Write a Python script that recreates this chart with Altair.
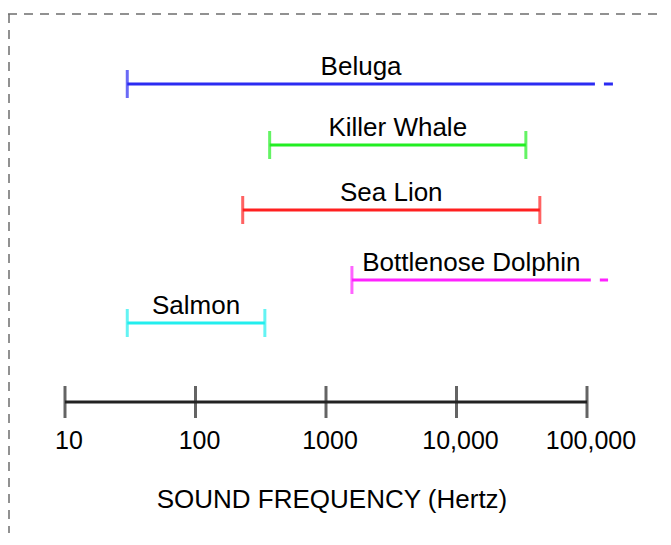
import altair as alt
import pandas as pd

# ---- data ----
species = ["Beluga", "Killer Whale", "Sea Lion", "Bottlenose Dolphin", "Salmon"]
low_hz = [30, 370, 230, 1580, 30]
high_hz = [115000, 34000, 43500, 107000, 340]
ext_hz = [158000, None, None, 145000, None]      # dashed continuation past the range
cap_high = [False, True, True, False, True]       # upper end bar drawn?
colors = ["#2b2bf2", "#22ee22", "#ff2020", "#ff22ff", "#22eeee"]

tick_values = [10, 100, 1000, 10000, 100000]
tick_labels = ["10", "100", "1000", "10,000", "100,000"]
axis_title = "SOUND FREQUENCY (Hertz)"

# ---- layout ----
W, H = 655, 525
lane_y = {"Beluga": 76, "Killer Whale": 137, "Sea Lion": 202,
          "Bottlenose Dolphin": 272, "Salmon": 315}
AXIS_Y, LABEL_Y, TITLE_Y = 394, 433, 492
FONT = "Liberation Sans"

df = pd.DataFrame({
    "species": species, "low": low_hz, "high": high_hz, "ext": ext_hz,
    "cap": cap_high, "lane": [lane_y[s] for s in species],
})
ticks = pd.DataFrame({"v": tick_values, "label": tick_labels})

xs = alt.Scale(type="log", domain=[10, 100000], range=[57, 579])
ys = alt.Scale(domain=[0, H], range=[0, H])
cs = alt.Scale(domain=species, range=colors)

X = lambda f: alt.X(f, type="quantitative", scale=xs, axis=None)
Y = lambda f: alt.Y(f, type="quantitative", scale=ys, axis=None)
C = alt.Color("species:N", scale=cs, legend=None)

base = alt.Chart(df)

border_top = alt.Chart(pd.DataFrame({"a": [0]})).mark_rule(
    color="#6e6e6e", strokeWidth=1.5, strokeDash=[9, 7]
).encode(x=alt.value(0), x2=alt.value(W), y=alt.value(6))
border_left = alt.Chart(pd.DataFrame({"a": [0]})).mark_rule(
    color="#6e6e6e", strokeWidth=1.5, strokeDash=[9, 7]
).encode(x=alt.value(1), y=alt.value(6), y2=alt.value(H))

ranges = base.mark_rule(strokeWidth=3).encode(
    x=X("low"), x2="high", y=Y("lane"), color=C)
low_caps = base.mark_tick(orient="vertical", size=28, thickness=3).encode(
    x=X("low"), y=Y("lane"), color=C)
high_caps = base.transform_filter("datum.cap").mark_tick(
    orient="vertical", size=28, thickness=3).encode(
    x=X("high"), y=Y("lane"), color=C)
ext = base.transform_filter("isValid(datum.ext)").mark_rule(
    strokeWidth=3, strokeDash=[9, 9], strokeDashOffset=9).encode(
    x=X("high"), x2="ext", y=Y("lane"), color=C)
names = base.transform_calculate(mid="sqrt(datum.low*datum.high)").mark_text(
    dy=-17, fontSize=26, font=FONT, color="black", baseline="middle").encode(
    x=X("mid"), y=Y("lane"), text="species:N")

ax = alt.Chart(ticks)
axis_line = ax.transform_aggregate(lo="min(v)", hi="max(v)").transform_calculate(
    yy=str(AXIS_Y)).mark_rule(color="#222222", strokeWidth=3).encode(
    x=X("lo"), x2="hi", y=Y("yy"))
axis_ticks = ax.transform_calculate(yy=str(AXIS_Y)).mark_tick(
    orient="vertical", size=32, thickness=3, color="#222222").encode(
    x=X("v"), y=Y("yy"))
axis_labels = ax.transform_calculate(yy=str(LABEL_Y)).mark_text(
    fontSize=25, font=FONT, color="black", baseline="middle", dx=4).encode(
    x=X("v"), y=Y("yy"), text="label:N")
title = alt.Chart(pd.DataFrame({"t": [axis_title], "v": [1000], "yy": [TITLE_Y]})).mark_text(
    fontSize=26, font=FONT, color="black", baseline="middle", dx=6).encode(
    x=X("v"), y=Y("yy"), text="t:N")

chart = alt.layer(
    border_top, border_left, ranges, ext, low_caps, high_caps, names,
    axis_line, axis_ticks, axis_labels, title
).properties(
    width=W, height=H, padding=0, autosize=alt.AutoSizeParams(type="none")
).configure_view(stroke=None)

chart.save("out.html", embed_options={"renderer": "svg", "actions": False})
